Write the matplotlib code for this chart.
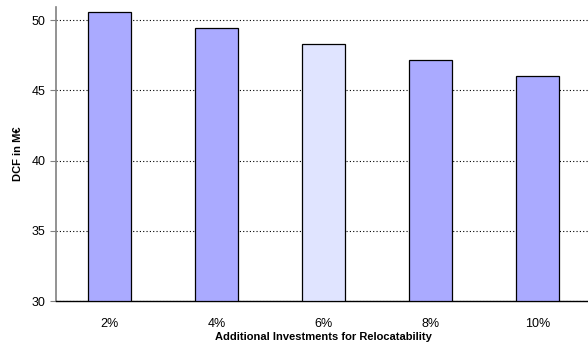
import matplotlib.pyplot as plt

plt.rcParams['font.family'] = ['Liberation Sans', 'DejaVu Sans']

# DCF per relocatability investment level
levels = ["2%", "4%", "6%", "8%", "10%"]
dcf = [50.56, 49.42, 48.33, 47.19, 46.05]
colors = ["#aaaaff", "#aaaaff", "#e0e4ff", "#aaaaff", "#aaaaff"]

fig = plt.figure(figsize=(5.88, 3.45), dpi=100)
ax = fig.add_axes([56 / 588, 44 / 345, 535 / 588, 294 / 345])

x = range(len(levels))
ax.bar(x, [v - 30 for v in dcf], bottom=30, width=0.4, color=colors,
       edgecolor="black", linewidth=0.9, zorder=3)

ax.set_xlim(-0.5, len(levels) - 0.5)
ax.set_ylim(30, 50.94)
ax.set_yticks([30, 35, 40, 45, 50])
ax.set_xticks(list(x))
ax.set_xticklabels(levels)
ax.yaxis.grid(True, linestyle=(0, (1, 2)), color="black", linewidth=0.8, zorder=0)

ax.spines["top"].set_visible(False)
ax.spines["right"].set_visible(False)
ax.spines["left"].set_color("#808080")
ax.spines["left"].set_linewidth(1.2)
ax.spines["bottom"].set_linewidth(1.0)
ax.tick_params(axis="x", length=0, labelsize=9, pad=12)
ax.tick_params(axis="y", length=4, color="#808080", labelsize=9)

ax.set_ylabel("DCF in M€", fontsize=8, fontweight="bold", labelpad=6)
ax.set_xlabel("Additional Investments for Relocatability", fontsize=8,
              fontweight="bold", labelpad=2)

fig.savefig("out.png", dpi=100)
